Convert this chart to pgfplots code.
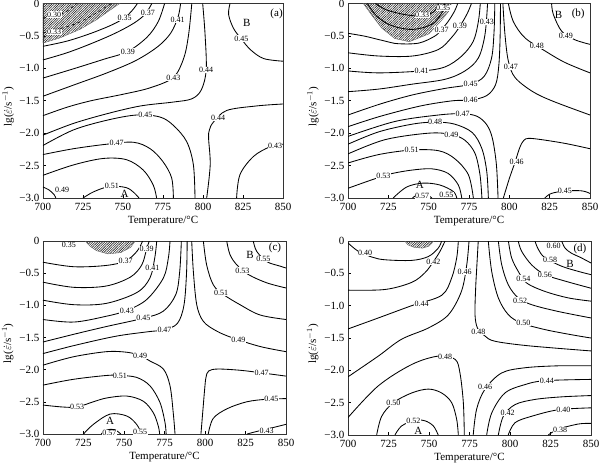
\documentclass[border=0pt]{standalone}
\usepackage{fontspec}
\setmainfont{Liberation Serif}
\usepackage{pgfplots}
\pgfplotsset{compat=1.18}
\usetikzlibrary{patterns.meta}
\tikzset{
  cl/.style={black, line width=0.85pt, smooth, tension=0.55, mark=none},
  dl/.style={black, line width=0.7pt, dashed, smooth, tension=0.55, mark=none},
  hatch/.style={draw=black!60, line width=0.4pt, pattern={Lines[angle=45,distance=1.7pt,line width=0.6pt]}, pattern color=black!85},
  lab/.style={fill=white, inner sep=0.4pt, font=\fontsize{8}{9}\selectfont},
  big/.style={inner sep=0.5pt, font=\fontsize{11}{12}\selectfont},
}
\newcommand\cl[1]{\addplot[cl] coordinates {#1};}
\newcommand\lb[3]{\node[lab] at (axis cs:#1,#2) {#3};}
\newcommand\tx[3]{\node[big] at (axis cs:#1,#2) {#3};}
\pgfplotsset{
  panel/.style={
    scale only axis, anchor=south west,
    xmin=700, xmax=850, ymin=-3, ymax=0,
    xtick={700,725,750,775,800,825,850},
    xticklabels={700,725,750,775,800,825,850},
    ytick={-3,-2.5,-2,-1.5,-1,-0.5,0},
    yticklabels={−3.0,−2.5,−2.0,−1.5,−1.0,−0.5,0},
    tick align=inside, major tick length=3pt,
    xtick pos=bottom, ytick pos=left,
    tick style={black, line width=0.6pt},
    axis line style={black!80, line width=0.8pt},
    ticklabel style={font=\fontsize{11}{12}\selectfont},
    xticklabel style={anchor=base, inner sep=0pt, yshift=-12.5pt},
    yticklabel style={anchor=east, inner sep=0pt, xshift=-3.5pt},
    xlabel={Temperature/°C},
    ylabel={lg($\dot{\varepsilon}$/s$^{-1}$)},
    label style={font=\fontsize{11}{12}\selectfont},
    xlabel style={at={(axis description cs:0.5,0)}, anchor=base, yshift=-25.5pt, inner sep=0pt},
    ylabel style={at={(axis description cs:-0.145,0.47)}, anchor=center, inner sep=0pt},
  }
}
\begin{document}
\begin{tikzpicture}
\path[use as bounding box] (0,0) rectangle (600pt,467pt);

% ---------------- (a)
\begin{axis}[panel, at={(43pt,269pt)}, width=240pt, height=194.5pt]
\addplot[hatch] coordinates {(700,0) (700,-0.61) (710.6,-0.53) (723,-0.40) (733.5,-0.25) (742,-0.10) (748,0)} -- cycle;
\addplot[dl] coordinates {(700,-0.455) (718.9,-0.327) (731.5,-0.173) (739.8,-0.046) (742.9,0)};
\addplot[dl] coordinates {(700,-0.225) (712.7,-0.148) (721,0)};
\cl{(700,-0.66) (715,-0.58) (730,-0.46) (743,-0.33) (751,-0.22) (756,-0.10) (759,0)}
\cl{(700,-0.87) (715,-0.76) (730,-0.62) (745,-0.46) (757,-0.30) (764,-0.16) (768,0)}
\cl{(700,-1.15) (720,-1.0) (738,-0.86) (753,-0.74) (765,-0.52) (772,-0.28) (776,0)}
\cl{(700,-1.43) (720,-1.25) (740,-1.07) (758,-0.88) (772,-0.66) (780,-0.45) (784.5,-0.2) (786,0)}
\cl{(700,-1.73) (715,-1.60) (730,-1.50) (750,-1.40) (767,-1.30) (781.5,-1.14) (788,-0.84) (791,-0.48) (793,0)}
\cl{(700,-2.03) (719,-1.85) (740,-1.70) (761,-1.58) (781.5,-1.52) (793,-1.47) (799,-1.33) (802,-1.02) (801.3,-0.48) (799.8,0)}
\cl{(700,-2.19) (719,-1.95) (740,-1.80) (758.5,-1.72) (773,-1.75) (781.5,-1.88) (789.8,-2.13) (794,-2.49) (795,-3)}
\cl{(700,-2.33) (719,-2.24) (740,-2.17) (756.5,-2.14) (767,-2.24) (775,-2.44) (780.4,-2.69) (781.5,-3)}
\cl{(700,-2.65) (719,-2.49) (737.7,-2.39) (752.3,-2.41) (762.7,-2.57) (768.9,-2.80) (771,-3)}
\cl{(700,-2.83) (704,-2.88) (707,-2.95) (708,-3)}
\cl{(725,-3) (732,-2.9) (742,-2.82) (752,-2.84) (757,-2.92) (760,-3)}
\cl{(802.3,-3) (804.5,-2.49) (803.5,-2.08) (804,-1.95) (806.5,-1.83) (814.8,-1.65) (833.5,-1.58) (850,-1.55)}
\cl{(821,-3) (823.1,-2.64) (831.5,-2.36) (841.9,-2.21) (850,-2.17)}
\cl{(816.9,0) (816,-0.17) (819,-0.38) (824,-0.55) (830,-0.72) (838,-0.85) (850,-0.89)}
\lb{707}{-0.17}{0.30} \lb{707}{-0.44}{0.33}
\lb{751}{-0.22}{0.35} \lb{765.5}{-0.14}{0.37} \lb{753}{-0.74}{0.39}
\lb{784.2}{-0.26}{0.41} \lb{781.5}{-1.14}{0.43} \lb{802}{-1.02}{0.44}
\lb{764}{-1.72}{0.45} \lb{746}{-2.15}{0.47} \lb{712}{-2.88}{0.49}
\lb{743}{-2.82}{0.51} \lb{809.5}{-1.77}{0.44} \lb{845}{-2.19}{0.43}
\lb{824}{-0.54}{0.45}
\tx{751}{-2.93}{A} \tx{827.3}{-0.30}{B} \tx{846}{-0.16}{(a)}
\end{axis}

% ---------------- (b)
\begin{axis}[panel, at={(348pt,269pt)}, width=242pt, height=194.5pt]
\addplot[hatch] coordinates {(709.5,0) (714.7,-0.18) (720.9,-0.38) (729,-0.54) (738,-0.59) (750,-0.47) (758,-0.26) (763,-0.1) (764,0)} -- cycle;
\cl{(712,0) (718,-0.2) (727,-0.34) (740,-0.40) (752,-0.32) (758,-0.15) (760,0)}
\cl{(717,0) (724,-0.1) (735,-0.17) (745,-0.19) (753,-0.13) (756,0)}
\cl{(700,-0.46) (710.5,-0.505) (723,-0.58) (731,-0.62) (744,-0.61) (754,-0.50) (758,-0.40) (762,-0.28) (766,-0.12) (768,0)}
\cl{(700,-0.76) (719,-0.81) (740,-0.81) (756,-0.71) (764,-0.53) (769.4,-0.35) (774,-0.15) (776.5,0)}
\cl{(700,-1.04) (719,-1.07) (745.7,-1.04) (760,-0.98) (770.5,-0.81) (777.7,-0.58) (780.8,-0.28) (782,0)}
\cl{(700,-1.36) (719,-1.32) (739.5,-1.245) (760,-1.17) (772.5,-1.04) (780.8,-0.84) (784.9,-0.48) (786.5,0)}
\cl{(700,-1.72) (720,-1.55) (740,-1.41) (760,-1.31) (776,-1.245) (784.5,-1.12) (789,-0.84) (790.5,-0.45) (791,0)}
\cl{(700,-1.90) (720,-1.74) (745,-1.58) (765,-1.50) (776,-1.49) (786,-1.42) (791.5,-1.25) (793.5,-0.95) (794.3,-0.5) (794.5,0)}
\cl{(700,-2.05) (729,-1.82) (756,-1.72) (771,-1.70) (780,-1.74) (786,-1.87) (789.5,-2.08) (792,-2.49) (793,-3)}
\cl{(700,-2.17) (719,-1.98) (740,-1.86) (754,-1.83) (766,-1.86) (777,-1.99) (783,-2.24) (786,-2.59) (787,-3)}
\cl{(700,-2.32) (723,-2.1) (750,-2.0) (764,-2.02) (772.5,-2.11) (778.7,-2.31) (781.8,-2.64) (783,-3)}
\cl{(700,-2.46) (719,-2.33) (739.5,-2.26) (756,-2.27) (766,-2.39) (774.6,-2.64) (777.7,-3)}
\cl{(700,-2.85) (714.7,-2.72) (726,-2.63) (739.5,-2.57) (752,-2.55) (762,-2.62) (768.4,-2.80) (770.5,-3)}
\cl{(728,-3) (736.4,-2.83) (746.7,-2.77) (757,-2.80) (765.3,-2.90) (767.4,-3)}
\cl{(740,-3) (743,-2.95) (748,-2.94) (752,-3)}
\cl{(796,0) (797.3,-0.48) (799.4,-0.89) (803.5,-1.14) (813.9,-1.35) (826.3,-1.50) (850,-1.72)}
\cl{(799.4,0) (802.5,-0.28) (809.7,-0.53) (822,-0.73) (834.5,-0.91) (850,-1.07)}
\cl{(826.2,0) (827.3,-0.17) (832.5,-0.43) (840.7,-0.56) (850,-0.63)}
\cl{(796.3,-3) (800,-2.7) (803.5,-2.45) (806.5,-2.22) (809,-2.11) (812,-2.08) (820,-2.1) (835,-2.16) (850,-2.24)}
\cl{(822,-3) (826,-2.93) (835,-2.89) (845,-2.89) (850,-2.93)}
\lb{746}{-0.18}{0.33} \lb{759}{-0.07}{0.35}
\lb{758}{-0.40}{0.37} \lb{769.4}{-0.35}{0.39} \lb{745.7}{-1.04}{0.41}
\lb{786}{-0.29}{0.43} \lb{776}{-1.245}{0.45} \lb{776}{-1.49}{0.46}
\lb{771}{-1.70}{0.47} \lb{754}{-1.83}{0.48} \lb{764}{-2.02}{0.49}
\lb{739.5}{-2.26}{0.51} \lb{722}{-2.66}{0.53} \lb{761}{-2.95}{0.55}
\lb{746}{-2.975}{0.57} \lb{801}{-0.98}{0.47} \lb{817}{-0.66}{0.48}
\lb{835}{-0.50}{0.49} \lb{804.5}{-2.45}{0.46} \lb{834.5}{-2.89}{0.45}
\tx{744.6}{-2.80}{A} \tx{830.5}{-0.17}{B} \tx{842.7}{-0.16}{(b)}
\end{axis}

% ---------------- (c)
\begin{axis}[panel, at={(43pt,33pt)}, width=243pt, height=193pt]
\addplot[hatch] coordinates {(726,0) (729,-0.08) (733,-0.15) (740,-0.20) (748,-0.18) (754,-0.10) (757,0)} -- cycle;
\cl{(700,-0.33) (719,-0.40) (739,-0.38) (751,-0.31) (758,-0.16) (761.5,0)}
\cl{(700,-0.64) (719,-0.72) (739,-0.70) (754,-0.56) (761,-0.37) (764,-0.12) (765.6,0)}
\cl{(700,-0.92) (719,-0.99) (739,-0.97) (758,-0.80) (766,-0.575) (769,-0.26) (770.2,0)}
\cl{(700,-1.22) (719,-1.26) (739,-1.17) (751.7,-1.08) (764,-0.91) (774.3,-0.575) (777.4,-0.26) (778.4,0)}
\cl{(700,-1.57) (719,-1.45) (739,-1.33) (762,-1.20) (774.3,-1.09) (782,-0.83) (784.4,-0.47) (785.4,0)}
\cl{(700,-1.75) (720,-1.62) (745,-1.48) (765,-1.41) (775,-1.38) (783,-1.28) (787,-1.0) (788.6,-0.5) (789,0)}
\cl{(700,-1.93) (718.7,-1.80) (739.3,-1.72) (752,-1.73) (760,-1.78) (766,-1.865) (774.3,-1.99) (778.4,-2.25) (780.4,-2.67) (781.5,-3)}
\cl{(700,-2.24) (718.7,-2.15) (739.3,-2.09) (747.5,-2.09) (757.8,-2.12) (766,-2.25) (772.2,-2.51) (775.3,-2.82) (776,-3)}
\cl{(700,-2.55) (712,-2.58) (721,-2.58) (731,-2.5) (739.3,-2.44) (751.7,-2.41) (761.9,-2.49) (768.1,-2.67) (771.2,-2.88) (772,-3)}
\cl{(725,-3) (731.1,-2.85) (741.4,-2.69) (751.7,-2.72) (757.8,-2.85) (760.9,-3)}
\cl{(736,-3) (739,-2.94) (744,-2.93) (748,-3)}
\cl{(791.8,0) (792.8,-0.47) (794.9,-0.99) (799,-1.25) (807.2,-1.40) (817.5,-1.51) (834,-1.64) (850,-1.72)}
\cl{(799,0) (801,-0.37) (805.1,-0.68) (811.3,-0.83) (821.6,-0.99) (834,-1.15) (850,-1.22)}
\cl{(813.4,0) (815.4,-0.21) (819.6,-0.37) (826.7,-0.52) (838.1,-0.65) (850,-0.73)}
\cl{(829.8,0) (831.9,-0.16) (838.1,-0.32) (846.3,-0.39) (850,-0.42)}
\cl{(797.5,-3) (798.8,-2.6) (799.8,-2.3) (800.6,-2.12) (802.3,-2.02) (808,-1.99) (822,-2.01) (835,-2.05) (850,-2.1)}
\cl{(802,-3) (805,-2.76) (813.4,-2.61) (825.7,-2.50) (838,-2.46) (850,-2.45)}
\cl{(826,-3) (832,-2.96) (842,-2.9) (850,-2.85)}
\lb{716}{-0.06}{0.35} \lb{751}{-0.31}{0.37} \lb{764}{-0.12}{0.39}
\lb{767.5}{-0.42}{0.41} \lb{751.7}{-1.08}{0.43} \lb{762}{-1.20}{0.45}
\lb{775}{-1.38}{0.47} \lb{760}{-1.78}{0.49} \lb{747.5}{-2.09}{0.51}
\lb{721}{-2.58}{0.53} \lb{760}{-2.97}{0.55} \lb{741}{-2.98}{0.57}
\lb{836}{-0.28}{0.55} \lb{823}{-0.46}{0.53} \lb{810}{-0.80}{0.51}
\lb{820.6}{-1.53}{0.49} \lb{835}{-2.05}{0.47} \lb{841}{-2.46}{0.45}
\lb{838}{-2.95}{0.43}
\tx{741.4}{-2.80}{A} \tx{827.8}{-0.22}{B} \tx{843.2}{-0.11}{(c)}
\end{axis}

% ---------------- (d)
\begin{axis}[panel, at={(348pt,32pt)}, width=243pt, height=194pt]
\addplot[hatch] coordinates {(735,0) (737,-0.06) (741,-0.1) (746,-0.11) (750,-0.08) (753,0)} -- cycle;
\cl{(700,-0.03) (706.4,-0.16) (715,-0.25) (722.8,-0.29) (739.3,-0.30) (749.6,-0.24) (755.7,-0.11) (757.8,0)}
\cl{(700,-0.76) (722.8,-0.75) (739.3,-0.64) (747.5,-0.49) (752.7,-0.32) (756.8,-0.16) (759.9,0)}
\cl{(700,-1.36) (718.7,-1.19) (739.3,-1.0) (757.8,-0.84) (764,-0.57) (767.1,-0.26) (768.1,0)}
\cl{(700,-2.10) (718.7,-1.78) (733,-1.52) (749.6,-1.345) (762,-1.14) (770,-0.78) (773.3,-0.37) (774.7,0)}
\cl{(780.4,0) (779.5,-0.4) (778.8,-0.73) (778.4,-1.14) (780,-1.35) (784.6,-1.47) (790.7,-1.55) (811.3,-1.62) (850,-1.70)}
\cl{(700,-2.73) (718.7,-2.24) (739.3,-1.91) (755.7,-1.78) (766.1,-1.83) (769.1,-2.04) (771.2,-2.50) (771.8,-3)}
\cl{(717.7,-3) (720.8,-2.71) (728,-2.50) (739.3,-2.35) (749.6,-2.29) (757.8,-2.35) (764,-2.50) (767.1,-2.76) (768.1,-3)}
\cl{(729,-3) (733.1,-2.86) (741.4,-2.77) (747.5,-2.78) (752.7,-2.86) (755.7,-3)}
\cl{(777.3,-3) (779.4,-2.60) (784.6,-2.29) (794.9,-2.04) (809.3,-1.96) (829.8,-1.93) (850,-1.93)}
\cl{(785.6,-3) (788.7,-2.66) (796.9,-2.35) (809.3,-2.22) (821.6,-2.16) (850,-2.14)}
\cl{(792.8,-3) (795.9,-2.71) (803.1,-2.53) (815.4,-2.45) (831.9,-2.41) (850,-2.39)}
\cl{(798.9,-3) (803.1,-2.81) (813.4,-2.71) (829.8,-2.61) (850,-2.58)}
\cl{(823.6,-3) (829.8,-2.91) (842.2,-2.83) (850,-2.82)}
\cl{(786.6,0) (788.7,-0.47) (792.8,-0.88) (799,-1.14) (807.2,-1.27) (821.6,-1.37) (838.1,-1.45) (850,-1.50)}
\cl{(792.8,0) (794.9,-0.37) (799,-0.68) (805.1,-0.88) (813.4,-0.985) (829.8,-1.09) (850,-1.19)}
\cl{(799,0) (801,-0.26) (805.1,-0.47) (810.3,-0.65) (821.6,-0.78) (836,-0.88) (850,-0.93)}
\cl{(805.1,0) (807.2,-0.16) (813.4,-0.37) (821.6,-0.52) (834,-0.62) (850,-0.73)}
\cl{(815.4,0) (817.5,-0.13) (821.6,-0.26) (831.9,-0.39) (842.2,-0.47) (850,-0.52)}
\cl{(831.9,0) (834,-0.11) (838,-0.19) (843.2,-0.25) (850,-0.34)}
\lb{710.5}{-0.18}{0.40} \lb{752.7}{-0.32}{0.42} \lb{745.5}{-0.97}{0.44}
\lb{772}{-0.47}{0.46} \lb{780.4}{-1.41}{0.48} \lb{760}{-1.79}{0.48}
\lb{728}{-2.51}{0.50} \lb{740.3}{-2.78}{0.52} \lb{784.6}{-2.25}{0.46}
\lb{822.7}{-2.16}{0.44} \lb{798.5}{-2.66}{0.42} \lb{832.9}{-2.61}{0.40}
\lb{831}{-2.92}{0.38} \lb{808.2}{-1.26}{0.50} \lb{806.2}{-0.92}{0.52}
\lb{808.2}{-0.58}{0.54} \lb{821.6}{-0.52}{0.56} \lb{824.7}{-0.29}{0.58}
\lb{827}{-0.08}{0.60}
\tx{743.4}{-2.93}{A} \tx{837}{-0.36}{B} \tx{843.2}{-0.12}{(d)}
\end{axis}
\end{tikzpicture}
\end{document}
